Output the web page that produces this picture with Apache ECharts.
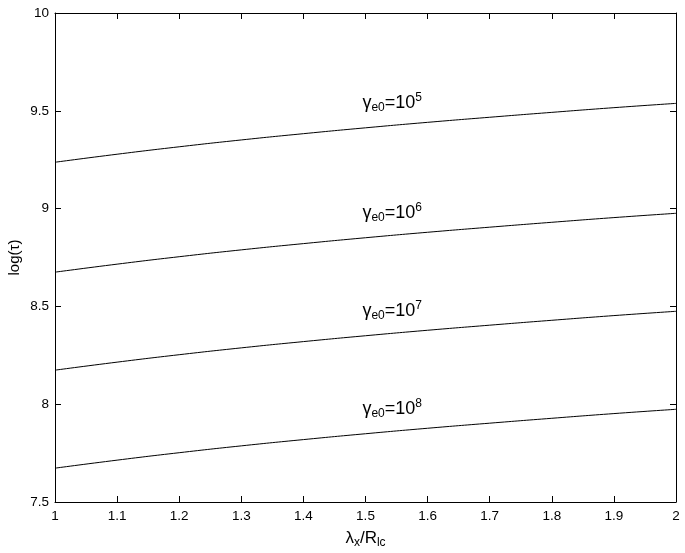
<!DOCTYPE html>
<html>
<head>
<meta charset="utf-8">
<script src="https://cdn.jsdelivr.net/npm/echarts@6/dist/echarts.min.js"></script>
<style>
  html, body { margin: 0; padding: 0; background: #fff; }
  #chart { width: 685px; height: 553px; }
</style>
</head>
<body>
<div id="chart"></div>
<script>
var xs = [1, 1.1, 1.2, 1.3, 1.4, 1.5, 1.6, 1.7, 1.8, 1.9, 2];
// log(tau), one list per gamma_e0
var g5 = [9.237, 9.278, 9.316, 9.351, 9.383, 9.413, 9.441, 9.467, 9.492, 9.516, 9.538];
var g6 = [8.675, 8.716, 8.754, 8.789, 8.821, 8.851, 8.879, 8.905, 8.930, 8.954, 8.976];
var g7 = [8.174, 8.215, 8.253, 8.288, 8.320, 8.350, 8.378, 8.404, 8.429, 8.453, 8.475];
var g8 = [7.673, 7.714, 7.752, 7.787, 7.819, 7.849, 7.877, 7.903, 7.928, 7.952, 7.974];
var exps = ['5', '6', '7', '8'];
// where each label sits (x, log tau)
var labelPos = [[1.543, 9.54], [1.543, 8.978], [1.543, 8.477], [1.543, 7.976]];

var font = 'Liberation Sans, Arial, Helvetica, sans-serif';
var allCurves = [g5, g6, g7, g8];

var series = allCurves.map(function (vals, i) {
    return {
        type: 'line',
        smooth: true,
        symbol: 'none',
        silent: true,
        lineStyle: {color: '#000', width: 1},
        data: xs.map(function (x, k) { return [x, vals[k]]; }),
        markPoint: {
            symbol: 'circle',
            symbolSize: 1,
            silent: true,
            itemStyle: {color: 'rgba(0,0,0,0)'},
            label: {
                show: true,
                position: 'inside',
                formatter: '{g|γ}{sub|e0}{g|=10}{sup|' + exps[i] + '}',
                rich: {
                    g: {fontFamily: font, fontSize: 18, color: '#000'},
                    sub: {fontFamily: font, fontSize: 12, color: '#000', padding: [9, 0, 0, 0]},
                    sup: {fontFamily: font, fontSize: 12, color: '#000', padding: [0, 0, 10, 0]}
                }
            },
            data: [{coord: labelPos[i]}]
        }
    };
});

var chart = echarts.init(document.getElementById('chart'));
chart.setOption({
    animation: false,
    grid: {left: 55, right: 9, top: 13, bottom: 51, outerBoundsMode: 'none'},
    xAxis: [{
        type: 'value',
        min: 1, max: 2, interval: 0.1,
        name: '{n|λ}{s|x}{n|/R}{s|lc}',
        nameLocation: 'middle',
        nameGap: 26,
        nameMoveOverlap: false,
        nameTextStyle: {
            rich: {
                n: {fontFamily: font, fontSize: 17, color: '#000'},
                s: {fontFamily: font, fontSize: 12, color: '#000', padding: [9, 0, 0, 0]}
            }
        },
        axisLine: {lineStyle: {color: '#000', width: 1}},
        axisTick: {inside: true, length: 6, lineStyle: {color: '#000'}},
        axisLabel: {color: '#000', fontFamily: font, fontSize: 13.5, margin: 7},
        splitLine: {show: false}
    }, {
        type: 'value', position: 'top',
        min: 1, max: 2, interval: 0.1,
        axisLine: {show: true, lineStyle: {color: '#000', width: 1}},
        axisTick: {inside: true, length: 6, lineStyle: {color: '#000'}},
        axisLabel: {show: false},
        splitLine: {show: false}
    }],
    yAxis: [{
        type: 'value',
        min: 7.5, max: 10, interval: 0.5,
        name: 'log(τ)',
        nameLocation: 'middle',
        nameGap: 33,
        nameMoveOverlap: false,
        nameTextStyle: {color: '#000', fontFamily: font, fontSize: 15},
        axisLine: {show: true, lineStyle: {color: '#000', width: 1}},
        axisTick: {inside: true, length: 6, lineStyle: {color: '#000'}},
        axisLabel: {color: '#000', fontFamily: font, fontSize: 13.5, margin: 6},
        splitLine: {show: false}
    }, {
        type: 'value', position: 'right',
        min: 7.5, max: 10, interval: 0.5,
        axisLine: {show: true, lineStyle: {color: '#000', width: 1}},
        axisTick: {inside: true, length: 6, lineStyle: {color: '#000'}},
        axisLabel: {show: false},
        splitLine: {show: false}
    }],
    series: series
});
</script>
</body>
</html>
